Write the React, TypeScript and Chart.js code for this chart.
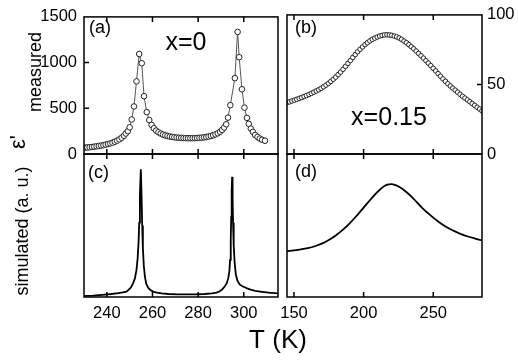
import { useEffect, useRef } from "react";
import { Chart, registerables } from "chart.js";

Chart.register(...registerables);

const FONT = "'Liberation Sans', Arial, Helvetica, sans-serif";

// ---------- data ----------
// (a) measured, x = 0
const aT = [230.5, 231.5, 232.5, 233.5, 234.5, 235.5, 236.5, 237.5, 238.5, 239.5, 240.5, 241.5, 242.5, 243.5, 244.5, 245.5, 246.5, 247.5, 248.3, 249.2, 250.0, 250.9, 251.9, 253.0, 254.2, 255.3, 256.3, 257.5, 258.6, 259.6, 260.6, 261.6, 262.6, 263.6, 264.6, 265.6, 266.6, 267.6, 268.6, 269.6, 270.6, 271.6, 272.6, 273.6, 274.6, 275.6, 276.6, 277.6, 278.6, 279.6, 280.6, 281.6, 282.6, 283.6, 284.6, 285.6, 286.6, 287.6, 288.6, 289.6, 290.5, 291.4, 292.3, 293.1, 294.1, 296.1, 297.3, 298.0, 299.2, 300.3, 301.4, 302.2, 303.1, 304.0, 305.0, 306.0, 307.0, 308.0, 309.3];
const aEps = [70, 72, 74, 77, 80, 84, 88, 92, 97, 103, 109, 116, 124, 134, 146, 160, 178, 200, 224, 250, 292, 378, 520, 795, 1094, 993, 632, 458, 371, 318, 282, 256, 238, 224, 213, 204, 197, 191, 187, 183, 180, 178, 176, 175, 174, 173, 173, 173, 174, 175, 177, 179, 182, 186, 191, 197, 205, 215, 227, 243, 264, 290, 325, 398, 534, 830, 1336, 1059, 708, 507, 395, 330, 278, 242, 208, 187, 169, 156, 145];

// (b) measured, x = 0.15
const bT = [145, 146.75, 148.5, 150.25, 152, 153.75, 155.5, 157.25, 159, 160.75, 162.5, 164.25, 166, 167.75, 169.5, 171.25, 173, 174.75, 176.5, 178.25, 180, 181.75, 183.5, 185.25, 187, 188.75, 190.5, 192.25, 194, 195.75, 197.5, 199.25, 201, 202.75, 204.5, 206.25, 208, 209.75, 211.5, 213.25, 215, 216.75, 218.5, 220.25, 222, 223.75, 225.5, 227.25, 229, 230.75, 232.5, 234.25, 236, 237.75, 239.5, 241.25, 243, 244.75, 246.5, 248.25, 250, 251.75, 253.5, 255.25, 257, 258.75, 260.5, 262.25, 264, 265.75, 267.5, 269.25, 271, 272.75, 274.5, 276.25, 278, 279.75, 281.5, 283.25, 285];
const bEps = [36.9, 37.5, 38.1, 38.7, 39.3, 40.0, 40.6, 41.3, 42.0, 42.8, 43.6, 44.4, 45.3, 46.2, 47.2, 48.3, 49.5, 50.8, 52.2, 53.7, 55.3, 57.1, 58.9, 60.9, 63.0, 65.1, 67.2, 69.4, 71.5, 73.5, 75.3, 77.0, 78.6, 80.0, 81.3, 82.4, 83.3, 84.1, 84.8, 85.3, 85.6, 85.7, 85.6, 85.3, 84.8, 84.2, 83.4, 82.4, 81.2, 80.0, 78.6, 77.1, 75.6, 74.0, 72.3, 70.6, 68.9, 67.1, 65.3, 63.5, 61.6, 59.7, 57.8, 55.9, 54.0, 52.2, 50.5, 48.9, 47.4, 45.9, 44.4, 42.9, 41.5, 40.2, 38.9, 37.6, 36.3, 35.0, 33.6, 32.3, 31.0];

// (c) simulated, x = 0
const cT = [230, 234, 238, 242, 245, 247, 248.6, 249.5, 250.5, 251.5, 252.3, 253.0, 253.5, 253.9, 254.2, 254.5, 254.9, 255.2, 255.5, 255.8, 256.2, 256.7, 257.3, 258.1, 259.1, 260.5, 262, 264, 267, 271, 275, 279, 283, 286, 288.1, 289.5, 290.7, 291.7, 292.5, 293.2, 293.7, 294.0, 294.3, 294.5, 294.7, 294.9, 295.1, 295.3, 295.6, 296.0, 296.5, 297.2, 298.2, 299.4, 300.4, 301.5, 303, 305, 308, 311, 315];
const cSim = [0.008, 0.010, 0.015, 0.021, 0.027, 0.032, 0.037, 0.050, 0.065, 0.095, 0.13, 0.19, 0.27, 0.38, 0.52, 0.72, 0.894, 0.72, 0.50, 0.34, 0.22, 0.14, 0.092, 0.065, 0.048, 0.036, 0.030, 0.025, 0.021, 0.019, 0.018, 0.019, 0.021, 0.025, 0.031, 0.040, 0.055, 0.075, 0.095, 0.13, 0.18, 0.26, 0.40, 0.56, 0.74, 0.84, 0.70, 0.52, 0.36, 0.24, 0.16, 0.115, 0.088, 0.075, 0.068, 0.060, 0.051, 0.043, 0.036, 0.030, 0.025];

// (d) simulated, x = 0.15
const dT = [145, 150, 155, 160, 165, 170, 175, 180, 185, 190, 195, 200, 205, 210, 214, 217, 220, 223, 226, 230, 234, 238, 242, 246, 250, 254, 258, 262, 266, 270, 275, 280, 285];
const dSim = [0.320, 0.326, 0.333, 0.342, 0.355, 0.373, 0.398, 0.430, 0.469, 0.515, 0.568, 0.625, 0.682, 0.735, 0.770, 0.786, 0.790, 0.782, 0.767, 0.740, 0.706, 0.665, 0.623, 0.588, 0.555, 0.525, 0.498, 0.476, 0.457, 0.440, 0.423, 0.409, 0.396];

// ticks
const leftXTicks = [240, 260, 280, 300];
const rightXTicks = [150, 200, 250];
const aYTicks = [0, 500, 1000, 1500];
const bYTicks = [0, 50, 100];

// ---------- plugins ----------
type TextItem = { text: string; x: number; y: number; size: number; align?: CanvasTextAlign; rotate?: boolean };

function framePlugin(xTicks: number[], yTicks: number[], ySide: "left" | "right" | "none") {
  return {
    id: "frame",
    afterDraw(chart: any) {
      const { ctx, chartArea: a, scales } = chart;
      const tl = 5;
      ctx.save();
      ctx.strokeStyle = "#000";
      ctx.lineWidth = 1.5;
      ctx.strokeRect(a.left, a.top, a.right - a.left, a.bottom - a.top);
      ctx.beginPath();
      for (const v of xTicks) {
        const px = scales.x.getPixelForValue(v);
        ctx.moveTo(px, a.top);
        ctx.lineTo(px, a.top + tl);
        ctx.moveTo(px, a.bottom);
        ctx.lineTo(px, a.bottom - tl);
      }
      if (ySide !== "none") {
        for (const v of yTicks) {
          const py = scales.y.getPixelForValue(v);
          if (ySide === "left") {
            ctx.moveTo(a.left, py);
            ctx.lineTo(a.left + tl, py);
          } else {
            ctx.moveTo(a.right, py);
            ctx.lineTo(a.right - tl, py);
          }
        }
      }
      ctx.stroke();
      ctx.restore();
    },
  };
}

function textPlugin(items: TextItem[]) {
  return {
    id: "texts",
    afterDraw(chart: any) {
      const ctx = chart.ctx;
      ctx.save();
      ctx.fillStyle = "#000";
      for (const t of items) {
        ctx.save();
        ctx.font = `${t.size}px ${FONT}`;
        ctx.textAlign = t.align || "center";
        ctx.textBaseline = "middle";
        ctx.translate(t.x, t.y);
        if (t.rotate) ctx.rotate(-Math.PI / 2);
        ctx.fillText(t.text, 0, 0);
        ctx.restore();
      }
      ctx.restore();
    },
  };
}

const tickFont = { family: FONT, size: 16.5 };
const plainLabel = (v: any) => String(v);

function baseOptions(padding: any) {
  return {
    responsive: false,
    animation: false as const,
    devicePixelRatio: 1,
    layout: { padding },
    plugins: { legend: { display: false }, tooltip: { enabled: false } },
    elements: { line: { tension: 0 } },
  };
}

const W = 518;
const H = 360;
const BOX = { lx1: 84, lx2: 278, rx1: 287, rx2: 482, y1: 10, ym: 154, y2: 297 };

function buildConfigs(): any[] {
  const a = {
    type: "line",
    data: {
      datasets: [
        {
          data: aT.map((t, i) => ({ x: t, y: aEps[i] })),
          borderColor: "#555",
          borderWidth: 1,
          pointRadius: 2.8,
          pointBackgroundColor: "#fff",
          pointBorderColor: "#222",
          pointBorderWidth: 1,
        },
      ],
    },
    options: {
      ...baseOptions({ left: 0, right: W - BOX.lx2, top: BOX.y1, bottom: H - BOX.ym }),
      scales: {
        x: { type: "linear", min: 230, max: 315, display: false },
        y: {
          type: "linear",
          min: 0,
          max: 1500,
          position: "left",
          grid: { display: false, drawTicks: false },
          border: { display: false },
          ticks: { font: tickFont, color: "#000", padding: 7, callback: plainLabel },
          afterBuildTicks: (s: any) => { s.ticks = aYTicks.map((v) => ({ value: v })); },
          afterFit: (s: any) => { s.width = BOX.lx1; },
        },
      },
    },
    plugins: [
      framePlugin(leftXTicks, [500, 1000], "left"),
      textPlugin([
        { text: "(a)", x: 89, y: 28, size: 18, align: "left" },
        { text: "x=0", x: 186, y: 43, size: 25 },
      ]),
    ],
  };

  const b = {
    type: "line",
    data: {
      datasets: [
        {
          data: bT.map((t, i) => ({ x: t, y: bEps[i] })),
          showLine: false,
          pointRadius: 2.3,
          pointBackgroundColor: "#fff",
          pointBorderColor: "#222",
          pointBorderWidth: 1,
        },
      ],
    },
    options: {
      ...baseOptions({ left: BOX.rx1, right: 0, top: BOX.y1, bottom: H - BOX.ym }),
      scales: {
        x: { type: "linear", min: 145, max: 285, display: false },
        y: {
          type: "linear",
          min: 0,
          max: 100,
          position: "right",
          grid: { display: false, drawTicks: false },
          border: { display: false },
          ticks: { font: tickFont, color: "#000", padding: 5, callback: plainLabel },
          afterBuildTicks: (s: any) => { s.ticks = bYTicks.map((v) => ({ value: v })); },
          afterFit: (s: any) => { s.width = W - BOX.rx2; },
        },
      },
    },
    plugins: [
      framePlugin(rightXTicks, [50], "right"),
      textPlugin([
        { text: "(b)", x: 295, y: 28, size: 18, align: "left" },
        { text: "x=0.15", x: 389, y: 118, size: 25 },
      ]),
    ],
  };

  const c = {
    type: "line",
    data: {
      datasets: [
        {
          data: cT.map((t, i) => ({ x: t, y: cSim[i] })),
          borderColor: "#000",
          borderWidth: 1.8,
          pointRadius: 0,
        },
      ],
    },
    options: {
      ...baseOptions({ left: BOX.lx1, right: W - BOX.lx2, top: BOX.ym, bottom: 0 }),
      scales: {
        x: {
          type: "linear",
          min: 230,
          max: 315,
          position: "bottom",
          grid: { display: false, drawTicks: false },
          border: { display: false },
          ticks: { font: tickFont, color: "#000", padding: 7, maxRotation: 0, callback: plainLabel },
          afterBuildTicks: (s: any) => { s.ticks = leftXTicks.map((v) => ({ value: v })); },
          afterFit: (s: any) => { s.height = H - BOX.y2; },
        },
        y: { type: "linear", min: 0, max: 1, display: false },
      },
    },
    plugins: [
      framePlugin(leftXTicks, [], "none"),
      textPlugin([
        { text: "(c)", x: 88, y: 173, size: 18, align: "left" },
        { text: "ε'", x: 19, y: 142, size: 22, rotate: true },
        { text: "measured", x: 36, y: 72, size: 18, rotate: true },
        { text: "simulated (a. u.)", x: 23, y: 231, size: 18, rotate: true },
        { text: "T (K)", x: 278, y: 341, size: 26 },
      ]),
    ],
  };

  const d = {
    type: "line",
    data: {
      datasets: [
        {
          data: dT.map((t, i) => ({ x: t, y: dSim[i] })),
          borderColor: "#000",
          borderWidth: 1.8,
          pointRadius: 0,
          cubicInterpolationMode: "monotone",
        },
      ],
    },
    options: {
      ...baseOptions({ left: BOX.rx1, right: W - BOX.rx2, top: BOX.ym, bottom: 0 }),
      scales: {
        x: {
          type: "linear",
          min: 145,
          max: 285,
          position: "bottom",
          grid: { display: false, drawTicks: false },
          border: { display: false },
          ticks: { font: tickFont, color: "#000", padding: 7, maxRotation: 0, callback: plainLabel },
          afterBuildTicks: (s: any) => { s.ticks = rightXTicks.map((v) => ({ value: v })); },
          afterFit: (s: any) => { s.height = H - BOX.y2; },
        },
        y: { type: "linear", min: 0, max: 1, display: false },
      },
    },
    plugins: [
      framePlugin(rightXTicks, [], "none"),
      textPlugin([{ text: "(d)", x: 295, y: 172, size: 18, align: "left" }]),
    ],
  };

  return [a, b, c, d];
}

export default function App() {
  const r0 = useRef<HTMLCanvasElement>(null);
  const r1 = useRef<HTMLCanvasElement>(null);
  const r2 = useRef<HTMLCanvasElement>(null);
  const r3 = useRef<HTMLCanvasElement>(null);

  useEffect(() => {
    Chart.defaults.font.family = FONT;
    Chart.defaults.color = "#000";
    const refs = [r0, r1, r2, r3];
    const cfgs = buildConfigs();
    const charts = refs.map((r, i) => new Chart(r.current as HTMLCanvasElement, cfgs[i]));
    return () => charts.forEach((c) => c.destroy());
  }, []);

  const style: any = { position: "absolute", left: 0, top: 0, width: W, height: H };
  return (
    <div style={{ position: "absolute", left: 0, top: 0, width: W, height: H, background: "#fff" }}>
      <canvas ref={r0} width={W} height={H} style={style} />
      <canvas ref={r1} width={W} height={H} style={style} />
      <canvas ref={r2} width={W} height={H} style={style} />
      <canvas ref={r3} width={W} height={H} style={style} />
    </div>
  );
}
